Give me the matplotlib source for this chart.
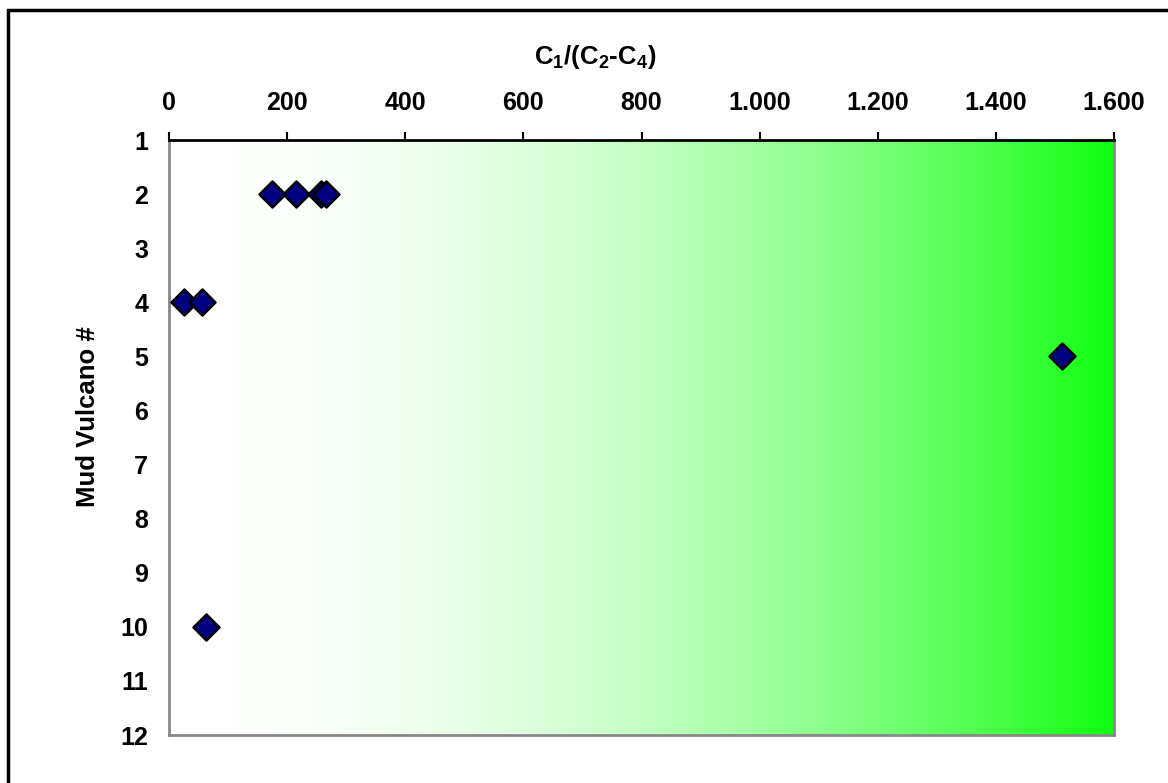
import numpy as np
import matplotlib.pyplot as plt
from matplotlib.patches import Rectangle
from matplotlib.ticker import FuncFormatter

# Datos: relación C1/(C2-C4) por volcán de lodo
volcan = [2, 2, 2, 2, 4, 4, 5, 10]
ratio = [174, 215, 257, 266, 25, 56, 1512, 63]

xticks = [0, 200, 400, 600, 800, 1000, 1200, 1400, 1600]
yticks = list(range(1, 13))

plt.rcParams['font.family'] = ['Liberation Sans', 'DejaVu Sans']
plt.rcParams['font.weight'] = 'bold'
plt.rcParams['mathtext.fontset'] = 'custom'
plt.rcParams['mathtext.bf'] = 'Liberation Sans:bold'
plt.rcParams['mathtext.rm'] = 'Liberation Sans:bold'

fig = plt.figure(figsize=(11.68, 7.83), dpi=100)
ax = fig.add_axes([169 / 1168, 1 - 735 / 783, (1114 - 169) / 1168, (735 - 140) / 783])

# Fondo degradado de blanco a verde
f = np.linspace(0, 1, 600)
r = 1 - 0.94 * f**2
grad = np.zeros((2, 600, 3))
grad[:, :, 0] = r
grad[:, :, 1] = 1
grad[:, :, 2] = r
ax.imshow(grad, extent=[0, 1600, 12, 1], aspect='auto', zorder=0, interpolation='bilinear')

ax.scatter(ratio, volcan, marker='D', s=175, color='#000080', edgecolors='black',
           linewidths=1.8, zorder=3, clip_on=False)

ax.set_xlim(0, 1600)
ax.set_ylim(12, 1)
ax.xaxis.tick_top()
ax.set_xticks(xticks)
ax.xaxis.set_major_formatter(FuncFormatter(lambda v, p: f'{int(v):,}'.replace(',', '.')))
ax.set_yticks(yticks)
ax.tick_params(axis='x', direction='out', length=6, width=1.5, color='black', labelsize=18, pad=12)
ax.tick_params(axis='y', length=0, labelsize=18, pad=15)
for lab in ax.get_xticklabels() + ax.get_yticklabels():
    lab.set_fontweight('bold')

ax.spines['top'].set_color('black')
ax.spines['top'].set_linewidth(2)
for s in ['left', 'right', 'bottom']:
    ax.spines[s].set_color('#888888')
    ax.spines[s].set_linewidth(2)

fig.text(595 / 1168, 1 - 57 / 783, r'C$_\mathrm{1}$/(C$_\mathrm{2}$-C$_\mathrm{4}$)',
         ha='center', va='center', fontsize=18.5, fontweight='bold')
fig.text(88 / 1168, 1 - 417 / 783, 'Mud Vulcano #', rotation=90,
         ha='center', va='center', fontsize=18.5, fontweight='bold')

# Marco exterior
fig.patches.append(Rectangle((8 / 1168, -0.1), 1.2, 1 - 10 / 783 + 0.1, transform=fig.transFigure,
                             fill=False, edgecolor='black', linewidth=2.5))

plt.savefig('out.png', dpi=100)
